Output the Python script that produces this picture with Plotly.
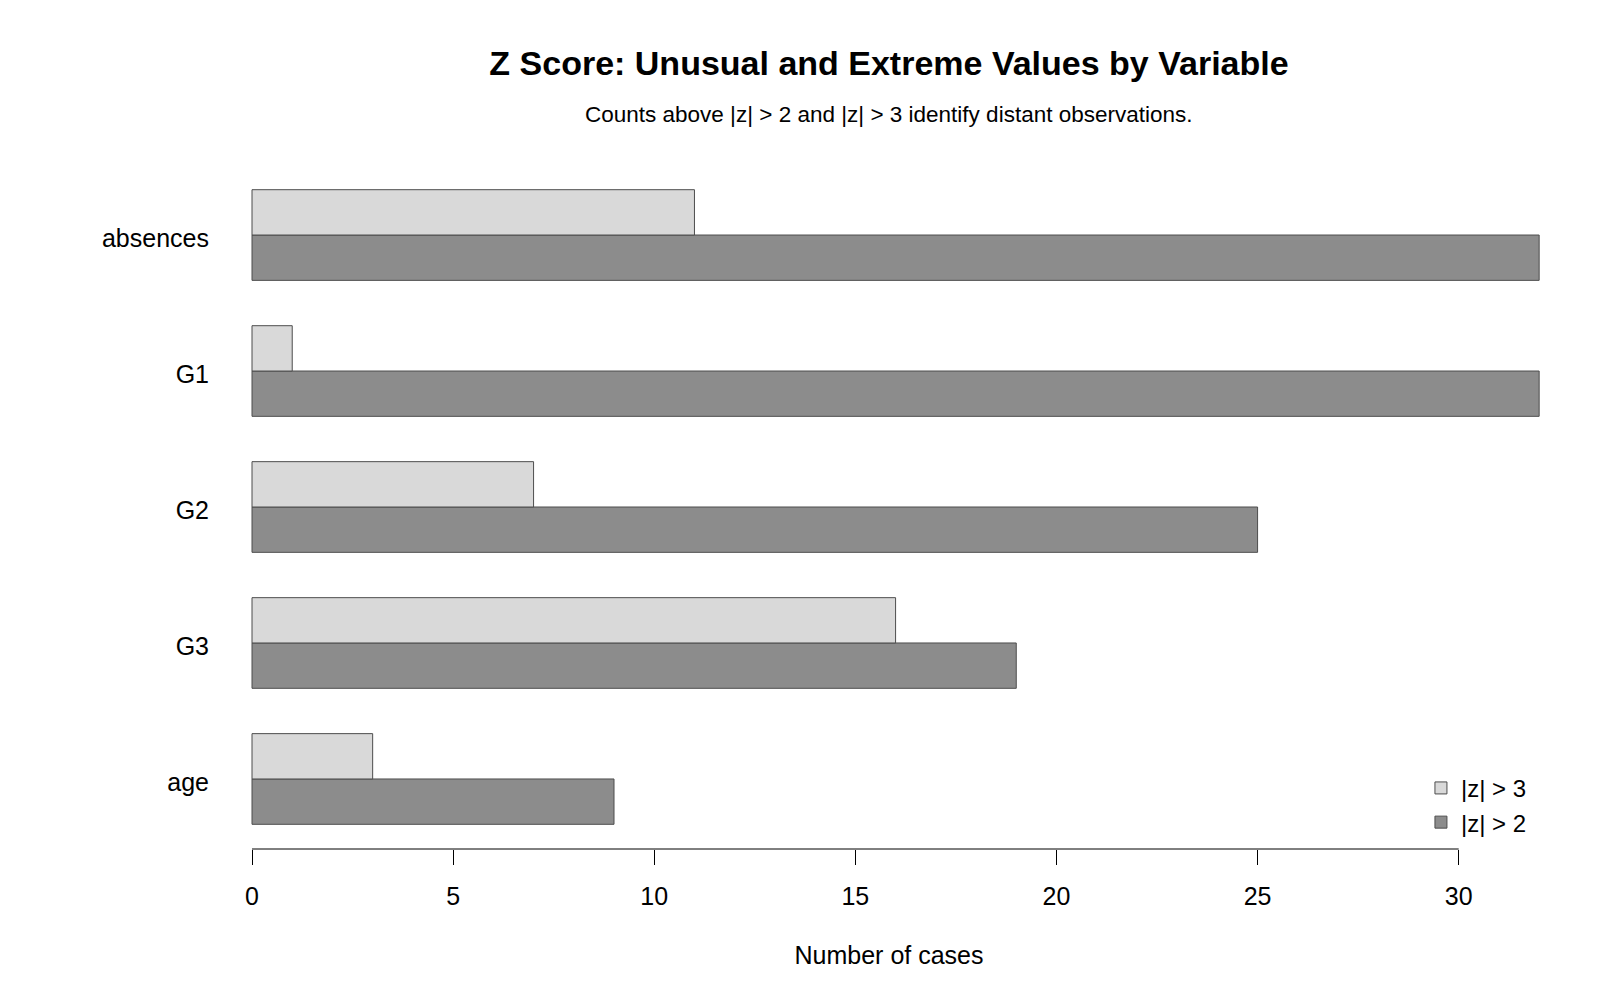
import plotly.graph_objects as go

variables = ["age", "G3", "G2", "G1", "absences"]
count_z2 = [9, 19, 25, 32, 32]
count_z3 = [3, 16, 7, 1, 11]
x_ticks = [0, 5, 10, 15, 20, 25, 30]

FONT = "Liberation Sans, Arial, sans-serif"
edge = dict(color="#4d4d4d", width=1)

fig = go.Figure()
fig.add_trace(go.Bar(y=variables, x=count_z2, orientation="h", name="|z| > 2",
                     marker=dict(color="#8c8c8c", line=edge)))
fig.add_trace(go.Bar(y=variables, x=count_z3, orientation="h", name="|z| > 3",
                     marker=dict(color="#d9d9d9", line=edge)))

fig.update_layout(
    width=1600, height=1000,
    margin=dict(l=230, r=52, t=165, b=151),
    paper_bgcolor="white", plot_bgcolor="white",
    font=dict(family=FONT, size=25, color="black"),
    barmode="group", bargap=1/3, bargroupgap=0,
    title=dict(text="<b>Z Score: Unusual and Extreme Values by Variable</b>",
               font=dict(size=34, color="black"),
               xref="paper", x=0.5, xanchor="center",
               yref="container", y=1 - 63/1000, yanchor="middle"),
    legend=dict(traceorder="reversed", x=0.9036, xanchor="left", y=0.1216, yanchor="top",
                bgcolor="rgba(0,0,0,0)", font=dict(size=24)),
    xaxis=dict(range=[-0.547, 32.22], tickvals=x_ticks, ticks="outside", ticklen=15,
               tickcolor="black", tickwidth=1, showline=False, showgrid=False,
               zeroline=False, ticklabelstandoff=10,
               title=dict(text="Number of cases", standoff=37, font=dict(size=25))),
    yaxis=dict(type="category", categoryorder="array", categoryarray=variables,
               range=[-0.515, 4.515], showline=False, showgrid=False, zeroline=False,
               ticks="", ticklabelstandoff=20, ticklabelshift=3),
    annotations=[dict(text="Counts above |z| > 2 and |z| > 3 identify distant observations.",
                      xref="paper", x=0.5, xanchor="center",
                      yref="paper", y=(849 - 114) / 684, yanchor="middle",
                      showarrow=False, font=dict(size=22.5, color="black"))],
    shapes=[dict(type="line", xref="x", yref="paper", x0=x_ticks[0], x1=x_ticks[-1],
                 y0=0, y1=0, line=dict(color="black", width=1))],
)

fig.write_html("out.html")
